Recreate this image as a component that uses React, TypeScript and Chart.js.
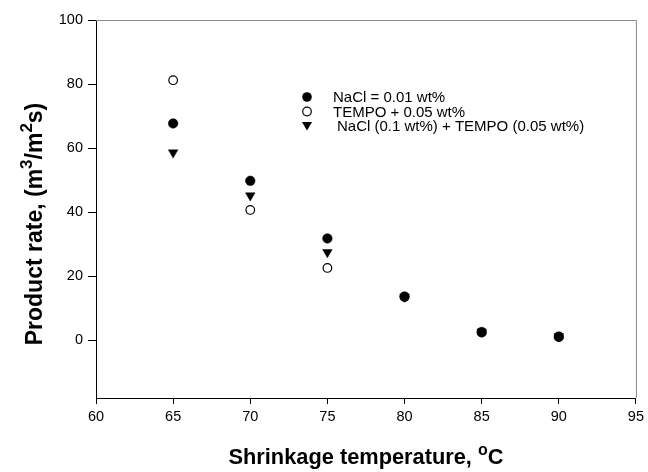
import React, { useEffect, useRef } from "react";
import { Chart, registerables } from "chart.js";

Chart.register(...registerables);

const temperatures = [65, 70, 75, 80, 85, 90];
const naclValues = [67.7, 49.8, 31.8, 13.7, 2.6, 1.2];
const tempoValues = [81.2, 40.7, 22.6, 13.5, 2.4, 1.0];
const bothValues = [58.6, 45.2, 27.5, 13.6, 2.7, 1.3];
const seriesLabels = [
  "NaCl = 0.01 wt%",
  "TEMPO + 0.05 wt%",
  "NaCl (0.1 wt%) + TEMPO (0.05 wt%)",
];
const yTickValues = [0, 20, 40, 60, 80, 100];

const FONT = "Arial, 'Liberation Sans', sans-serif";

function drawMarker(ctx: CanvasRenderingContext2D, kind: number, x: number, y: number) {
  ctx.save();
  ctx.lineWidth = 1.2;
  ctx.strokeStyle = "#000";
  if (kind === 0) {
    ctx.beginPath();
    ctx.arc(x, y, 4.8, 0, Math.PI * 2);
    ctx.fillStyle = "#000";
    ctx.fill();
  } else if (kind === 1) {
    ctx.beginPath();
    ctx.arc(x, y, 4.3, 0, Math.PI * 2);
    ctx.fillStyle = "#fff";
    ctx.fill();
    ctx.stroke();
  } else {
    ctx.beginPath();
    ctx.moveTo(x - 5, y - 4);
    ctx.lineTo(x + 5, y - 4);
    ctx.lineTo(x, y + 4.5);
    ctx.closePath();
    ctx.fillStyle = "#000";
    ctx.fill();
  }
  ctx.restore();
}

function drawRich(ctx: CanvasRenderingContext2D, parts: { t: string; sup?: boolean }[], cx: number, cy: number, size: number) {
  const big = `bold ${size}px ${FONT}`;
  const small = `bold ${Math.round(size * 0.72)}px ${FONT}`;
  let total = 0;
  for (const p of parts) {
    ctx.font = p.sup ? small : big;
    total += ctx.measureText(p.t).width;
  }
  let x = cx - total / 2;
  ctx.textBaseline = "alphabetic";
  ctx.textAlign = "left";
  for (const p of parts) {
    ctx.font = p.sup ? small : big;
    ctx.fillText(p.t, x, p.sup ? cy - size * 0.42 : cy);
    x += ctx.measureText(p.t).width;
  }
}

const decorPlugin = {
  id: "decor",
  afterDraw(chart: any) {
    const ctx: CanvasRenderingContext2D = chart.ctx;
    const a = chart.chartArea;
    ctx.save();
    // top and right frame lines (thin gray)
    ctx.strokeStyle = "#8a8a8a";
    ctx.lineWidth = 1;
    ctx.beginPath();
    ctx.moveTo(a.left, a.top + 0.5);
    ctx.lineTo(a.right + 0.5, a.top + 0.5);
    ctx.lineTo(a.right + 0.5, a.bottom);
    ctx.stroke();

    // legend
    const lx = 307;
    const rows = [97, 111.5, 126];
    const tx = [333, 333, 337];
    rows.forEach((ry, i) => {
      drawMarker(ctx, i, lx, ry);
      ctx.fillStyle = "#000";
      ctx.font = `15px ${FONT}`;
      ctx.textBaseline = "middle";
      ctx.textAlign = "left";
      ctx.fillText(seriesLabels[i], tx[i], ry + 1);
    });

    // x title
    ctx.fillStyle = "#000";
    drawRich(
      ctx,
      [{ t: "Shrinkage temperature, " }, { t: "o", sup: true }, { t: "C" }],
      (a.left + a.right) / 2,
      464,
      21.8
    );

    // y title
    ctx.save();
    ctx.translate(42, 224);
    ctx.rotate(-Math.PI / 2);
    drawRich(
      ctx,
      [
        { t: "Product rate, (m" },
        { t: "3", sup: true },
        { t: "/m" },
        { t: "2", sup: true },
        { t: "s)" },
      ],
      0,
      0,
      23
    );
    ctx.restore();
    ctx.restore();
  },
};

export default function App() {
  const ref = useRef<HTMLCanvasElement | null>(null);

  useEffect(() => {
    document.body.style.margin = "0";
    const canvas = ref.current;
    if (!canvas) return;
    const pointStyles = ["circle", "circle", "triangle"];
    const data = [naclValues, tempoValues, bothValues];
    const chart = new Chart(canvas, {
      type: "scatter",
      data: {
        datasets: data.map((vals, i) => ({
          label: seriesLabels[i],
          data: temperatures.map((t, j) => ({ x: t, y: vals[j] })),
          pointStyle: pointStyles[i] as any,
          pointRadius: i === 2 ? 5.5 : i === 1 ? 4.3 : 4.8,
          pointRotation: i === 2 ? 180 : 0,
          pointBackgroundColor: i === 1 ? "#ffffff" : "#000000",
          pointBorderColor: "#000000",
          pointBorderWidth: i === 1 ? 1.2 : 0.5,
          showLine: false,
        })),
      },
      options: {
        responsive: false,
        animation: false,
        layout: { padding: { left: 0, right: 10, top: 20, bottom: 0 } },
        plugins: {
          legend: { display: false },
          tooltip: { enabled: false },
          title: { display: false },
        },
        scales: {
          x: {
            type: "linear",
            min: 60,
            max: 95,
            afterFit: (s: any) => {
              s.height = 74;
            },
            ticks: {
              stepSize: 5,
              color: "#000",
              font: { family: FONT, size: 14.5 },
              padding: 4,
              maxRotation: 0,
            },
            grid: {
              drawOnChartArea: false,
              drawTicks: true,
              tickLength: 6,
              color: "#000",
            },
            border: { display: true, color: "#000", width: 1 },
          },
          y: {
            type: "linear",
            min: -18,
            max: 100,
            afterFit: (s: any) => {
              s.width = 96;
            },
            afterBuildTicks: (s: any) => {
              s.ticks = yTickValues.map((v) => ({ value: v }));
            },
            ticks: {
              color: "#000",
              font: { family: FONT, size: 14.5 },
              padding: 5,
            },
            grid: {
              drawOnChartArea: false,
              drawTicks: true,
              tickLength: 8,
              color: "#000",
            },
            border: { display: true, color: "#000", width: 1 },
          },
        },
      },
      plugins: [decorPlugin],
    });
    return () => chart.destroy();
  }, []);

  return (
    <div style={{ width: 648, height: 472, background: "#fff" }}>
      <canvas ref={ref} width={648} height={472} style={{ display: "block" }} />
    </div>
  );
}
